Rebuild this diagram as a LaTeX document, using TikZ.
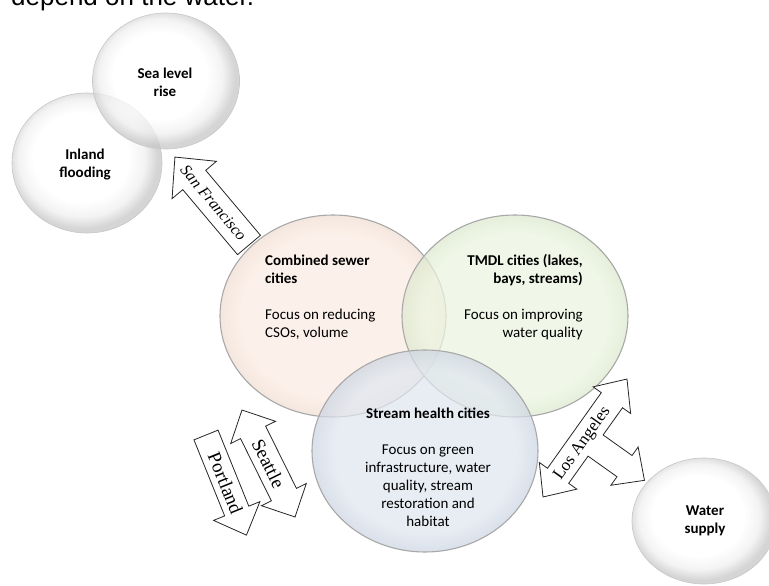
\documentclass[tikz,border=0pt]{standalone}
\usepackage{fontspec}
\setmainfont{Carlito}
\newfontfamily\serifarrow{Liberation Serif}
\newfontfamily\titlefont{Liberation Sans}
\usetikzlibrary{shapes.geometric}
\definecolor{peachc}{RGB}{252,236,226}
\definecolor{peachr}{RGB}{240,222,212}
\definecolor{greenc}{RGB}{236,245,224}
\definecolor{greenr}{RGB}{220,232,206}
\definecolor{bluec}{RGB}{224,231,240}
\definecolor{bluer}{RGB}{204,213,226}
\pgfdeclareradialshading{glossy}{\pgfpoint{-3bp}{3bp}}{color(0bp)=(white); color(16bp)=(white); color(21bp)=(black!6); color(25bp)=(black!22); color(50bp)=(black!22)}
\pgfdeclareradialshading{peachsh}{\pgfpoint{0bp}{0bp}}{color(0bp)=(peachc); color(20bp)=(peachc); color(25bp)=(peachr); color(50bp)=(peachr)}
\pgfdeclareradialshading{greensh}{\pgfpoint{0bp}{0bp}}{color(0bp)=(greenc); color(20bp)=(greenc); color(25bp)=(greenr); color(50bp)=(greenr)}
\pgfdeclareradialshading{bluesh}{\pgfpoint{0bp}{0bp}}{color(0bp)=(bluec); color(20bp)=(bluec); color(25bp)=(bluer); color(50bp)=(bluer)}
\tikzset{
  smallc/.style={ellipse, inner sep=0pt, shade, shading=glossy, fill opacity=0.75, draw=black!22, line width=0.6pt},
  bigc/.style={ellipse, inner sep=0pt, shade, fill opacity=0.72, draw=black!34, line width=1.1pt, minimum width=226pt, minimum height=202pt},
  ctext/.style={inner sep=0pt, font=\fontsize{15}{18}\selectfont},
  btext/.style={inner sep=0pt, font=\bfseries\fontsize{15}{18}\selectfont},
  blockarrow/.style={fill=white, draw=black!85, line width=0.8pt, line join=miter},
  atext/.style={inner sep=0pt, font=\serifarrow\fontsize{17}{20}\selectfont},
}
\begin{document}
\begin{tikzpicture}[x=1pt,y=1pt]
\useasboundingbox (0,0) rectangle (769,-586);
\fill[white] (0,0) rectangle (769,-586);
% cropped title
\begin{scope}
\clip (0,0) rectangle (769,-586);
\node[anchor=base west, inner sep=0pt, font=\titlefont\fontsize{26}{30}\selectfont] (title) at (11,-6) {depend on the water.};
\end{scope}
% small circles
\node[smallc, minimum width=150pt, minimum height=140pt] (inland) at (87,-163) {};
\node[smallc, minimum width=147pt, minimum height=136pt] (sea) at (166,-81) {};
\node[smallc, minimum width=144pt, minimum height=126pt] (water) at (704,-521) {};
\node[btext, anchor=north, align=center] (sealbl) at (165,-68) {Sea level\\rise};
\node[btext, anchor=north, align=center] (inlandlbl) at (85,-149) {Inland\\flooding};
\node[btext, anchor=north, align=center] (waterlbl) at (705,-506) {Water\\supply};
% big circles
\node[bigc, shading=peachsh] (cso) at (333,-316) {};
\node[bigc, shading=greensh] (tmdl) at (515,-316) {};
\node[bigc, shading=bluesh] (stream) at (425,-451) {};
\node[ctext, anchor=north west, align=left] (csolbl) at (265,-255) {\textbf{Combined sewer}\\\textbf{cities}\\[18pt]Focus on reducing\\CSOs, volume};
\node[ctext, anchor=north east, align=right] (tmdllbl) at (583,-254.5) {\textbf{TMDL cities (lakes,}\\\textbf{bays, streams)}\\[18pt]Focus on improving\\water quality};
\node[ctext, anchor=north, align=center] (streamlbl) at (428,-407.5) {\textbf{Stream health cities}\\[18pt]Focus on green\\infrastructure, water\\quality, stream\\restoration and\\habitat};
% San Francisco arrow
\begin{scope}[shift={(249,-245)}, rotate=130.1]
\draw[blockarrow] (0,-15) -- (85,-15) -- (85,-29) -- (115,0) -- (85,29) -- (85,15) -- (0,15) -- cycle;
\node[atext, rotate=-49.9, font=\serifarrow\itshape\fontsize{16}{20}\selectfont] (sf) at (55,0) {San Francisco};
\end{scope}
% Seattle arrow
\begin{scope}[shift={(268.5,-463.5)}, rotate=116.35]
\draw[blockarrow] (59.7,0) -- (34.7,25) -- (34.7,14) -- (-34.7,14) -- (-34.7,25) -- (-59.7,0) -- (-34.7,-25) -- (-34.7,-14) -- (34.7,-14) -- (34.7,-25) -- cycle;
\node[atext, rotate=-63.65, font=\serifarrow\fontsize{19}{20}\selectfont] (seattle) at (0,0) {Seattle};
\end{scope}
% Portland arrow
\begin{scope}[shift={(206,-435)}, rotate=-68]
\draw[blockarrow] (0,-13) -- (82,-13) -- (82,-25) -- (108,0) -- (82,25) -- (82,13) -- (0,13) -- cycle;
\node[atext, rotate=-68, font=\serifarrow\fontsize{19}{20}\selectfont] (portland) at (52,0) {Portland};
\end{scope}
% Los Angeles arrow
\begin{scope}[shift={(585,-438)}, rotate=54.56]
\draw[blockarrow] (72.4,0) -- (46.4,23) -- (46.4,13) -- (-46.4,13) -- (-46.4,23) -- (-72.4,0) -- (-46.4,-23) -- (-46.4,-13) -- (-13,-13) -- (-13,-48.5) -- (-23.5,-48.5) -- (0,-73) -- (23.5,-48.5) -- (13,-48.5) -- (13,-13) -- (46.4,-13) -- (46.4,-23) -- cycle;
\node[atext, rotate=54.56] (la) at (-6,-1) {Los Angeles};
\end{scope}
\end{tikzpicture}
\end{document}
